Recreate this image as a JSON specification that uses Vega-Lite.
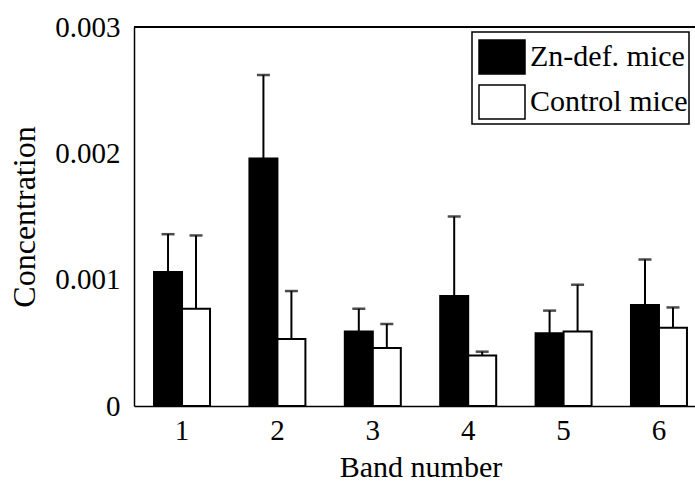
{
  "$schema": "https://vega.github.io/schema/vega-lite/v6.json",
  "width": 561,
  "height": 379,
  "autosize": {"type": "none"},
  "padding": {"left": 134, "top": 27, "right": 0, "bottom": 79},
  "background": "white",
  "config": {
    "view": {"stroke": null},
    "font": "Liberation Serif",
    "axis": {"domainColor": "black", "domainWidth": 1.5, "grid": false, "labelColor": "black", "titleColor": "black", "labelFont": "Liberation Serif", "titleFont": "Liberation Serif", "titleFontWeight": "normal"}
  },
  "data": {
    "values": [
      {"band": "1", "group": "Zn-def. mice", "value": 0.00106, "upper": 0.00136},
      {"band": "1", "group": "Control mice", "value": 0.00077, "upper": 0.00135},
      {"band": "2", "group": "Zn-def. mice", "value": 0.00196, "upper": 0.00262},
      {"band": "2", "group": "Control mice", "value": 0.00053, "upper": 0.00091},
      {"band": "3", "group": "Zn-def. mice", "value": 0.00059, "upper": 0.00077},
      {"band": "3", "group": "Control mice", "value": 0.00046, "upper": 0.00065},
      {"band": "4", "group": "Zn-def. mice", "value": 0.00087, "upper": 0.0015},
      {"band": "4", "group": "Control mice", "value": 0.0004, "upper": 0.00043},
      {"band": "5", "group": "Zn-def. mice", "value": 0.000575, "upper": 0.000755},
      {"band": "5", "group": "Control mice", "value": 0.00059, "upper": 0.00096},
      {"band": "6", "group": "Zn-def. mice", "value": 0.0008, "upper": 0.00116},
      {"band": "6", "group": "Control mice", "value": 0.00062, "upper": 0.00078}
    ]
  },
  "layer": [
    {
      "mark": {"type": "bar", "stroke": "black", "strokeWidth": 2},
      "encoding": {
        "x": {
          "field": "band", "type": "ordinal",
          "scale": {"range": [0, 573], "paddingInner": 0.413, "paddingOuter": 0.21},
          "axis": {"title": "Band number", "labelAngle": 0, "ticks": false, "labelPadding": 10, "labelFontSize": 29, "titleFontSize": 30, "titlePadding": 7}
        },
        "xOffset": {"field": "group", "type": "nominal", "sort": ["Zn-def. mice", "Control mice"], "scale": {"paddingInner": 0, "paddingOuter": 0}},
        "y": {
          "field": "value", "type": "quantitative",
          "scale": {"domain": [0, 0.003]},
          "axis": {"title": "Concentration", "values": [0, 0.001, 0.002, 0.003], "ticks": false, "labelPadding": 14, "labelFontSize": 29, "titleFontSize": 32, "titlePadding": 13, "labelExpr": "datum.value == 0 ? '0' : format(datum.value, '.3f')"}
        },
        "fill": {
          "field": "group", "type": "nominal",
          "scale": {"domain": ["Zn-def. mice", "Control mice"], "range": ["black", "white"]},
          "legend": {
            "title": null, "orient": "none", "legendX": 338, "legendY": 5,
            "symbolType": "M-1,-0.74L1,-0.74L1,0.74L-1,0.74Z", "symbolSize": 2116,
            "symbolStrokeColor": "black", "symbolStrokeWidth": 1.5, "symbolOffset": 5,
            "labelFontSize": 30, "labelFont": "Liberation Serif", "labelColor": "black", "labelOffset": 4,
            "rowPadding": -4.5, "padding": 1, "strokeColor": "black", "fillColor": "white",
            "labelLimit": 400,
            "encode": {"legend": {"update": {"strokeWidth": {"value": 1.5}}}}
          }
        }
      }
    },
    {
      "mark": {"type": "rule", "color": "black", "strokeWidth": 2},
      "encoding": {
        "x": {"field": "band", "type": "ordinal"},
        "xOffset": {"field": "group", "type": "nominal", "sort": ["Zn-def. mice", "Control mice"]},
        "y": {"field": "value", "type": "quantitative"},
        "y2": {"field": "upper"}
      }
    },
    {
      "mark": {"type": "tick", "color": "black", "thickness": 2.5, "size": 13},
      "encoding": {
        "x": {"field": "band", "type": "ordinal"},
        "xOffset": {"field": "group", "type": "nominal", "sort": ["Zn-def. mice", "Control mice"]},
        "y": {"field": "upper", "type": "quantitative"}
      }
    },
    {
      "mark": {"type": "rule", "color": "black", "strokeWidth": 1.5},
      "encoding": {"y": {"datum": 0.003}}
    }
  ]
}
